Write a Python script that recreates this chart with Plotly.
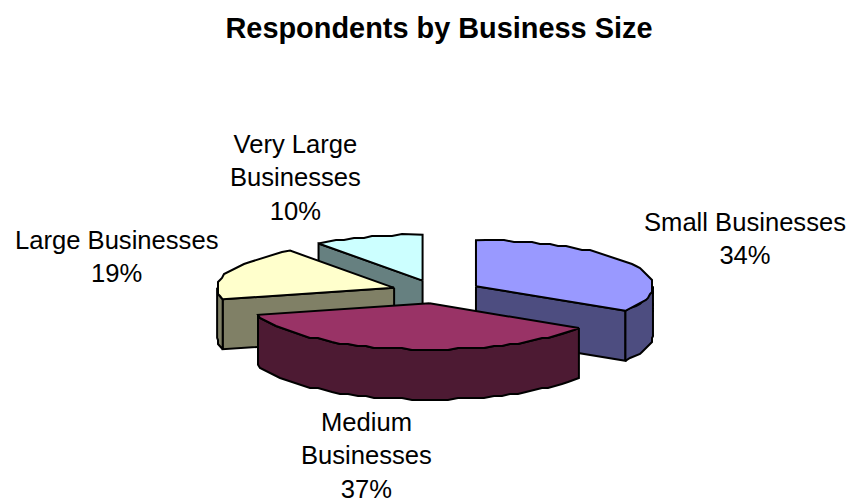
import math
import plotly.graph_objects as go

# Share of respondents per business size
categories = ["Small Businesses", "Medium Businesses", "Large Businesses", "Very Large Businesses"]
shares = [34, 37, 19, 10]
label_lines = [
    ["Small Businesses"],
    ["Medium", "Businesses"],
    ["Large Businesses"],
    ["Very Large", "Businesses"],
]
top_colors = ["#9999FF", "#993366", "#FFFFCC", "#CCFFFF"]
side_colors = ["#4D4D80", "#4D1A33", "#808066", "#668080"]

# Projection of the tilted pie onto the page, in pixels
CX, CY = 436.5, 291.8
RX, RY = 177.0, 46.0
DEPTH = 50.0
EXPLODE = 0.2545
RIM_GRID = 2.0  # the rim outline is coarsely rasterised, which gives it a slight ripple
WIDTH, HEIGHT = 851, 504

label_anchor = {
    "Small Businesses": (745, 238),
    "Medium Businesses": (366, 455.5),
    "Large Businesses": (116, 256.5),
    "Very Large Businesses": (295, 177),
}


def rim(center, angle):
    return center[0] + RX * math.sin(angle), center[1] - RY * math.cos(angle)


def snap(point):
    return (round(point[0] / RIM_GRID) * RIM_GRID, round(point[1] / RIM_GRID) * RIM_GRID)


def arc(center, a0, a1):
    steps = max(2, int(abs(a1 - a0) / math.radians(3)))
    points = [rim(center, a0 + (a1 - a0) * i / steps) for i in range(steps + 1)]
    # End points stay exact so faces meet cleanly at the corners
    return [points[0]] + [snap(p) for p in points[1:-1]] + [points[-1]]


def add_polygon(fig, points, color, name):
    fig.add_trace(go.Scatter(
        x=[p[0] for p in points] + [points[0][0]],
        y=[p[1] for p in points] + [points[0][1]],
        mode="lines",
        fill="toself",
        fillcolor=color,
        line=dict(color="black", width=2),
        name=name,
        hoverinfo="name",
        showlegend=False,
    ))


def drop(points):
    return [(x, y + DEPTH) for x, y in points]


# Slice sweep angles, clockwise from twelve o'clock
total = sum(shares)
slices = []
running = 0.0
for i, value in enumerate(shares):
    a0 = running / total * 2 * math.pi
    running += value
    a1 = running / total * 2 * math.pi
    mid = (a0 + a1) / 2
    center = (CX + EXPLODE * RX * math.sin(mid), CY - EXPLODE * RY * math.cos(mid))
    slices.append((i, a0, a1, center))

fig = go.Figure()

# Back-to-front painting order: small, very large, large, medium
for i, a0, a1, center in [slices[0], slices[3], slices[2], slices[1]]:
    name = categories[i]
    side = side_colors[i]
    top_rim = arc(center, a0, a1)

    # Cut faces that turn toward the viewer
    if math.sin(a0) < -1e-9:
        edge = [center, rim(center, a0)]
        add_polygon(fig, edge + drop(edge)[::-1], side, name)
    if math.sin(a1) > 1e-9:
        edge = [center, rim(center, a1)]
        add_polygon(fig, edge + drop(edge)[::-1], side, name)

    # Outer wall, only the front half of the ellipse shows
    lo = max(a0, math.pi / 2)
    hi = min(a1, 3 * math.pi / 2)
    if hi > lo:
        wall = arc(center, lo, hi)
        add_polygon(fig, wall + drop(wall)[::-1], side, name)

    # Top face
    add_polygon(fig, [center] + top_rim, top_colors[i], name)

# Category labels with their percentages
for name, lines, value in zip(categories, label_lines, shares):
    x, y = label_anchor[name]
    fig.add_annotation(
        x=x, y=y, xref="x", yref="y",
        text="<br>".join(lines + [f"{value}%"]),
        showarrow=False, align="center",
        font=dict(family="Liberation Sans, Arial", size=25.6, color="black"),
    )

fig.update_layout(
    width=WIDTH, height=HEIGHT,
    margin=dict(l=0, r=0, t=0, b=0),
    paper_bgcolor="white", plot_bgcolor="white",
    title=dict(
        text="<b>Respondents by Business Size</b>",
        x=439 / WIDTH, y=1 - 28 / HEIGHT, xanchor="center", yanchor="middle",
        font=dict(family="Liberation Sans, Arial", size=28.9, color="black"),
    ),
    xaxis=dict(range=[0, WIDTH], visible=False, fixedrange=True),
    yaxis=dict(range=[HEIGHT, 0], visible=False, fixedrange=True),
)

fig.write_html("out.html", config={"displayModeBar": False})
